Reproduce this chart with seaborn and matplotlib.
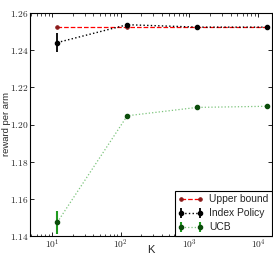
import numpy as np
import seaborn as sns
import matplotlib
matplotlib.use("Agg")
import matplotlib.pyplot as plt
from matplotlib.ticker import FuncFormatter, LogLocator

# values
K = [12, 125, 1300, 13500]
upper_bound = [1.2525, 1.2525, 1.2525, 1.2525]
index_policy = [1.2441, 1.2537, 1.2524, 1.2524]
index_err = [0.0052, 0.0010, 0.0004, 0.0004]
ucb = [1.1474, 1.2047, 1.2092, 1.2098]
ucb_err = [0.0062, 0.0010, 0.0004, 0.0004]

x_ticks = [10, 100, 1000, 10000]
y_ticks = [1.14, 1.16, 1.18, 1.20, 1.22, 1.24, 1.26]

sns.set_style("ticks")
plt.rcParams['font.family'] = ['Liberation Sans', 'DejaVu Sans']
plt.rcParams['mathtext.fontset'] = 'cm'
plt.rcParams['xtick.direction'] = 'in'
plt.rcParams['ytick.direction'] = 'in'

fig = plt.figure(figsize=(2.73, 2.58), dpi=100)
ax = fig.add_axes([30 / 273, 1 - 236 / 258, 242 / 273, 223 / 258])

# upper bound line
sns.lineplot(x=K, y=upper_bound, ax=ax, color='red', linestyle='--', linewidth=0.9,
             marker='o', markersize=2.5, markerfacecolor='#8b1a1a', markeredgecolor='#8b1a1a',
             label='Upper bound', zorder=2)

# index policy with error bars
ax.errorbar(K, index_policy, yerr=index_err, color='black', linestyle=':', linewidth=1.0,
            marker='o', markersize=3, elinewidth=1.3, capsize=0, label='Index Policy', zorder=3)

# UCB with error bars
ucb_line = ax.errorbar(K, ucb, yerr=ucb_err, color='#1f9a1f', linestyle=':', linewidth=0.9,
                       marker='o', markersize=3, markerfacecolor='#0b4d0b',
                       markeredgecolor='#0b4d0b', elinewidth=1.5, capsize=0,
                       label='UCB', zorder=3)
ucb_line[0].set_color('#7cc47c')
ucb_line[0].set_markerfacecolor('#0b4d0b')
ucb_line[0].set_markeredgecolor('#0b4d0b')

ax.set_xscale('log')
ax.set_xlim(4.8, 16000)
ax.set_ylim(1.14, 1.26)
ax.set_xticks(x_ticks)
ax.xaxis.set_minor_locator(LogLocator(base=10, subs=np.arange(2, 10), numticks=20))
ax.set_yticks(y_ticks)
ax.xaxis.set_major_formatter(FuncFormatter(lambda v, p: r'$10^{%d}$' % round(np.log10(v))))
ax.yaxis.set_major_formatter(FuncFormatter(lambda v, p: r'$%.2f$' % v))

ax.tick_params(axis='both', which='both', top=True, right=True, direction='in',
               labelsize=6.8, color='black', pad=1.5)
ax.tick_params(axis='y', which='major', pad=1)
ax.tick_params(axis='both', which='major', length=3, width=0.6)
ax.tick_params(axis='x', which='minor', length=1.8, width=0.5)
for s in ax.spines.values():
    s.set_color('black')
    s.set_linewidth(0.8)

ax.set_xlabel('K', fontsize=8)
ax.set_ylabel('reward per arm', fontsize=6.8)
# keep the axis labels inside the small canvas
ax.xaxis.set_label_coords(0.5, -0.04)
ax.yaxis.set_label_coords(-0.079, 0.5)

leg = ax.legend(loc='lower right', fontsize=7.4, numpoints=2, handlelength=2.4,
                handletextpad=0.6, borderaxespad=0, borderpad=0.35, labelspacing=0.4,
                fancybox=False, framealpha=1, edgecolor='black')
leg.get_frame().set_linewidth(0.8)

fig.savefig('out.png', dpi=100)
